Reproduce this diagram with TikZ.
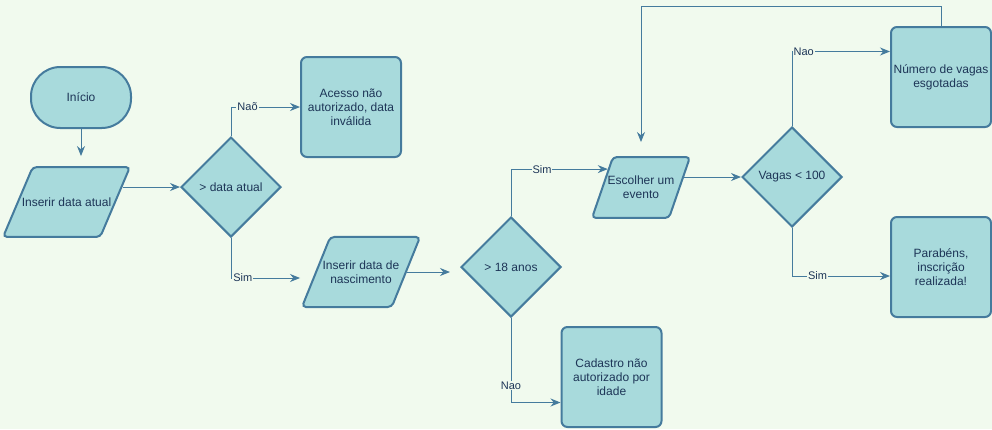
\documentclass[tikz,border=0pt]{standalone}
\usepackage{fontspec}
\setmainfont{Liberation Sans}
\usetikzlibrary{shapes.geometric,arrows.meta,calc}

\definecolor{bgmint}{HTML}{F1FAEE}
\definecolor{boxfill}{HTML}{A8DADC}
\definecolor{boxline}{HTML}{457B9D}
\definecolor{boxtext}{HTML}{1D3557}

\tikzset{every picture/.style={line width=0.75pt}}
\tikzset{
  shapebox/.style={draw=boxline, fill=boxfill, line width=1.5pt, text=boxtext, align=center, font=\fontsize{9}{10.5}\selectfont, inner sep=0pt},
  procbox/.style={shapebox, rounded corners=4.5pt, minimum width=75pt, minimum height=75pt},
  termbox/.style={shapebox, rounded corners=22pt, minimum width=75pt, minimum height=45.75pt},
  iobox/.style={shapebox, trapezium, trapezium stretches body=true, rounded corners=3pt},
  decbox/.style={shapebox, diamond, minimum width=75pt, minimum height=75pt},
  flow/.style={draw=boxline, line width=0.75pt, -{Stealth[length=7.5pt,width=6pt]}},
  flowlabel/.style={fill=bgmint, text=boxtext, font=\fontsize{8.25}{9}\selectfont, inner sep=0.75pt},
}

\begin{document}
\begin{tikzpicture}[x=0.75pt,y=0.75pt,yscale=-1,xscale=1]
\path[use as bounding box, fill=bgmint] (0,0) rectangle (992,429); %diagram area 992 x 429

%Terminal [id:ini]
\node[termbox] (ini) at (81,97.5) {Início};
%Data [id:ida]
\node[iobox, trapezium left angle=67, trapezium right angle=113, inner xsep=-8.2pt, inner ysep=22.9pt] (ida) at (66.5,202) {Inserir data atual};
%Decision [id:dat]
\node[decbox] (dat) at (231,187) {> data atual};
%Rounded Rect [id:ace]
\node[procbox] (ace) at (351,107) {Acesso não\\autorizado, data\\inválida};
%Data [id:nasc]
\node[iobox, trapezium left angle=68, trapezium right angle=112, inner xsep=-5.7pt, inner ysep=17.7pt] (nasc) at (361,272) {Inserir data de\\nascimento};
%Decision [id:anos]
\node[decbox] (anos) at (511,267) {> 18 anos};
%Rounded Rect [id:cad]
\node[procbox] (cad) at (611.5,377) {Cadastro não\\autorizado por\\idade};
%Data [id:esc]
\node[iobox, trapezium left angle=71, trapezium right angle=109, inner xsep=-4pt, inner ysep=14.3pt] (esc) at (641,187.5) {Escolher um\\evento};
%Decision [id:vag]
\node[decbox] (vag) at (792,177) {Vagas < 100};
%Rounded Rect [id:num]
\node[procbox] (num) at (941,77) {Número de vagas\\esgotadas};
%Rounded Rect [id:par]
\node[procbox] (par) at (941,267) {Parabéns,\\inscrição\\realizada!};

%Connectors
\draw[flow, shorten >=7.5pt] (ini.south) -- (ini.south |- ida.north);
\draw[flow] (dat.west -| ida.15) -- (dat.west);
\draw[flow] (dat.north) |- node[flowlabel, pos=0.62] {Naõ} (ace.west);
\draw[flow, shorten >=11.25pt] (dat.south) |- node[flowlabel, pos=0.57] {Sim} ([yshift=4.5pt]nasc.west);
\draw[flow, shorten >=7.5pt] (nasc.east) -- (nasc.east -| anos.west);
\draw[flow] (anos.north) |- node[flowlabel, pos=0.66] {Sim} (esc.151);
\draw[flow] (anos.south) |- node[flowlabel, pos=0.4] {Nao} ($(cad.west)!0.5!(cad.south west)$);
\draw[flow] (vag.west -| esc.13) -- (vag.west);
\draw[flow] (vag.north) |- node[flowlabel, pos=0.56] {Nao} ($(num.west)!0.5!(num.north west)$);
\draw[flow] (vag.south) |- node[flowlabel, pos=0.63] {Sim} ([yshift=6.75pt]par.west);
\draw[flow, shorten >=10.5pt] (num.north) -- ++(0,-20) -| (esc.center |- esc.north);
\end{tikzpicture}
\end{document}
